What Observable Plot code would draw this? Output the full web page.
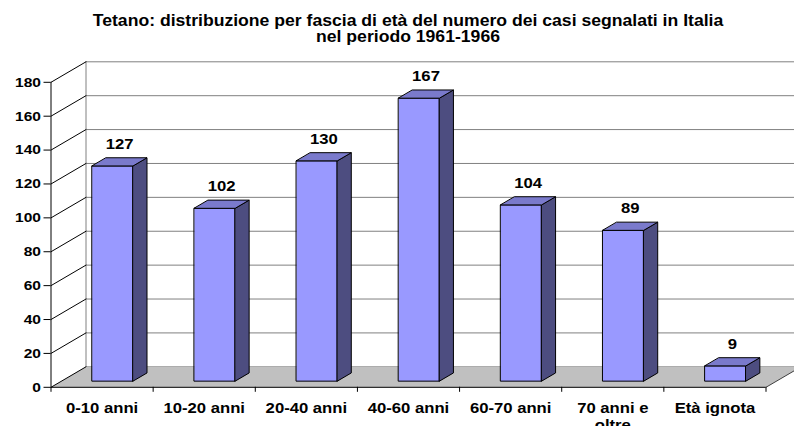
<!DOCTYPE html>
<html><head><meta charset="utf-8">
<script src="https://cdn.jsdelivr.net/npm/d3@7"></script>
<script src="https://cdn.jsdelivr.net/npm/@observablehq/plot@0.6"></script>
<style>
html,body{margin:0;padding:0;background:#fff;overflow:hidden;}
#title{position:relative;height:48px;width:794px;}
#title div{position:absolute;left:408px;top:12.7px;transform:translateX(-50%) scaleX(1.1);white-space:nowrap;text-align:center;font:bold 16px/16.5px "Liberation Sans",Arial,sans-serif;color:#000;}
</style></head><body>
<div id="title"><div>Tetano: distribuzione per fascia di età del numero dei casi segnalati in Italia<br>nel periodo 1961-1966</div></div>
<div id="chart"></div>
<script>
// ---- data ----
const categories = ["0-10 anni", "10-20 anni", "20-40 anni", "40-60 anni", "60-70 anni", "70 anni e\noltre", "Età ignota"];
const cases = [127, 102, 130, 167, 104, 89, 9];
const yTicks = [0, 20, 40, 60, 80, 100, 120, 140, 160, 180];

// ---- layout ----
const W = 794, H = 378;
const mL = 50.5, mR = 28.5, mT = 33.8, mB = 39.2;
const nBands = categories.length;
const yMax = 180;
const pxPerBand = (W - mL - mR) / nBands;
const pxPerUnit = (H - mT - mB) / yMax;
const DX = 35 / pxPerBand;    // depth offset in x (band units)
const DY = 20.5 / pxPerUnit;  // depth offset in y (value units)
const tF = 0.3, tB = 0.7;     // bar depth position
const K = 1.15;               // horizontal text stretch

// polygons
const wall = [{id: 0, x: DX, y: DY}, {id: 0, x: nBands + DX, y: DY}, {id: 0, x: nBands + DX, y: yMax + DY}, {id: 0, x: DX, y: yMax + DY}];
const floor = [{id: 0, x: 0, y: 0}, {id: 0, x: nBands, y: 0}, {id: 0, x: nBands + DX, y: DY}, {id: 0, x: DX, y: DY}];
const backGrid = yTicks.flatMap(v => [{id: v, x: DX, y: v + DY}, {id: v, x: nBands + DX + 1, y: v + DY}]);
const sideGrid = yTicks.flatMap(v => [{id: v, x: 0, y: v}, {id: v, x: DX, y: v + DY}]);
const wallEdge = [{id: 0, x: DX, y: DY}, {id: 0, x: DX, y: yMax + DY}];
const floorEdge = [{id: 0, x: nBands, y: 0}, {id: 0, x: nBands + DX, y: DY}];

const fronts = [], sides = [], tops = [];
cases.forEach((v, i) => {
  const x0 = i + 0.3, x1 = i + 0.7;
  fronts.push({id: i, x: x0 + tF * DX, y: tF * DY}, {id: i, x: x1 + tF * DX, y: tF * DY}, {id: i, x: x1 + tF * DX, y: v + tF * DY}, {id: i, x: x0 + tF * DX, y: v + tF * DY});
  sides.push({id: i, x: x1 + tF * DX, y: tF * DY}, {id: i, x: x1 + tB * DX, y: tB * DY}, {id: i, x: x1 + tB * DX, y: v + tB * DY}, {id: i, x: x1 + tF * DX, y: v + tF * DY});
  tops.push({id: i, x: x0 + tF * DX, y: v + tF * DY}, {id: i, x: x1 + tF * DX, y: v + tF * DY}, {id: i, x: x1 + tB * DX, y: v + tB * DY}, {id: i, x: x0 + tB * DX, y: v + tB * DY});
});

const font = "'Liberation Sans', Arial, sans-serif";
const poly = (data, fill, stroke) => Plot.line(data, {x: "x", y: "y", z: "id", fill, stroke: stroke || "none", strokeWidth: 1, curve: "linear-closed", strokeLinejoin: "miter"});
const seg = (data, stroke) => Plot.line(data, {x: "x", y: "y", z: "id", stroke, strokeWidth: 1, strokeLinejoin: "miter"});

const chart = Plot.plot({
  width: W, height: H,
  marginLeft: mL, marginRight: mR, marginTop: mT, marginBottom: mB,
  style: {fontFamily: font, color: "black", background: "white", overflow: "hidden"},
  x: {domain: [0, nBands], label: null},
  y: {domain: [0, yMax], label: null},
  marks: [
    poly(wall, "white"),
    seg(backGrid, "#808080"),
    seg(wallEdge, "#808080"),
    poly(floor, "#c0c0c0"),
    seg(floorEdge, "#404040"),
    seg(sideGrid, "black"),
    Plot.ruleX([0], {y1: 0, y2: yMax, stroke: "black"}),
    Plot.ruleY([0], {x1: 0, x2: nBands, stroke: "black"}),
    poly(fronts, "#9999ff", "black"),
    poly(sides, "#4d4d80", "black"),
    poly(tops, "#7a7acc", "black"),
    Plot.axisY({ticks: yTicks, tickSize: 7, tickPadding: 3, fontSize: 13.5, fontWeight: "bold", tickFormat: d => String(d), label: null}),
    Plot.axisX({ticks: d3.range(nBands + 1), tickSize: 5, tickFormat: () => "", label: null}),
    Plot.text(categories, {x: (d, i) => i + 0.5, frameAnchor: "bottom", text: d => d, lineAnchor: "top", dy: 13, lineHeight: 1.2, fontSize: 14.5, fontWeight: "bold", fill: "black"}),
    Plot.text(cases, {x: (d, i) => i + 0.5 + 0.5 * DX, y: d => d + tB * DY, text: d => String(d), lineAnchor: "bottom", dy: -9, fontSize: 14.5, fontWeight: "bold", fill: "black"})
  ]
});

chart.querySelectorAll("text").forEach(t => {
  const tr = t.getAttribute("transform");
  if (tr) t.setAttribute("transform", tr + ` scale(${K},1)`);
  else {
    const x = +(t.getAttribute("x") || 0), y = +(t.getAttribute("y") || 0);
    t.setAttribute("transform", `translate(${x},${y}) scale(${K},1) translate(${-x},${-y})`);
  }
});
document.getElementById("chart").appendChild(chart);
</script>
</body></html>
